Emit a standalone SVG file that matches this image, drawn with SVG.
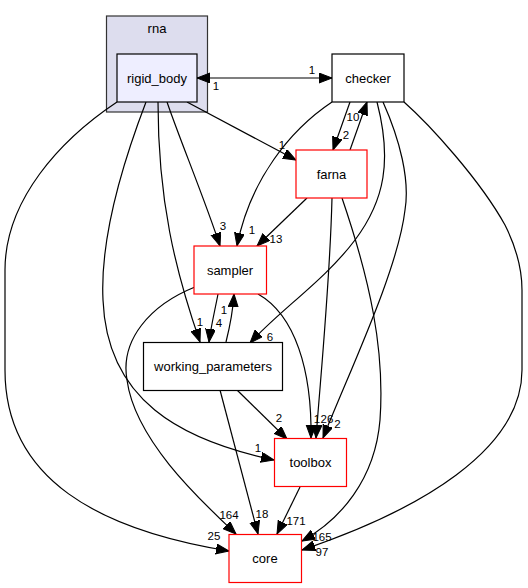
<svg xmlns="http://www.w3.org/2000/svg" width="528" height="588" viewBox="0 0 528 588">
<style>
.bg{fill:#ffffff}
.cl{fill:#ddddee;stroke:#333333;stroke-width:1.2}
.nb{fill:#ffffff;stroke:#000000;stroke-width:1.2}
.nr{fill:#ffffff;stroke:#ff0000;stroke-width:1.2}
.nh{fill:#eeeeff;stroke:#000000;stroke-width:1.2}
.t{font-family:"Liberation Sans",Arial,sans-serif;font-size:13px;text-anchor:middle;fill:#000}
.e{fill:none;stroke:#000;stroke-width:1.2;marker-end:url(#ah)}
.l{font-family:"Liberation Sans",Arial,sans-serif;font-size:11.5px;text-anchor:middle;fill:#000}
</style>
<defs>
<marker id="ah" markerUnits="userSpaceOnUse" markerWidth="14" markerHeight="11" refX="13" refY="5" orient="auto-start-reverse" viewBox="0 0 14 11">
<path d="M0,0 L13,5 L0,10 z" fill="#000" stroke="#000" stroke-width="1"/>
</marker>
</defs>
<rect class="bg" x="0" y="0" width="528" height="588"/>
<g id="cluster_rna">
<rect class="cl" x="106.5" y="16" width="101" height="96"/>
<text class="t" x="157" y="33">rna</text>
</g>
<g id="edges">
<path class="e" d="M197,78 L332,78" marker-start="url(#ah)"/>
<path class="e" d="M187,102 L296,160"/>
<path class="e" d="M167,102 C180,140 205,200 220,246"/>
<path class="e" d="M158,102 C158,200 175,270 200,342"/>
<path class="e" d="M146,102 C120,170 100,240 103,300 C107,400 180,440 274,460"/>
<path class="e" d="M117,102 C60,140 5,200 5,270 L5,370 C5,480 100,530 229,551"/>
<path class="e" d="M332,102 C290,130 250,180 237,246"/>
<path class="e" d="M350,102 L333,150"/>
<path class="e" d="M350,150 L367,102"/>
<path class="e" d="M377,102 C392,160 385,200 355,240 C325,280 280,310 250,343"/>
<path class="e" d="M383,102 C400,140 410,180 405,210 C398,270 350,370 323,438"/>
<path class="e" d="M404,102 C430,125 480,180 505,225 C515,245 522,265 522,290 L522,370 C522,450 420,510 302,550"/>
<path class="e" d="M307,198 L257,246"/>
<path class="e" d="M332,198 C330,280 322,360 316,438"/>
<path class="e" d="M342,198 C370,280 385,350 380,420 C375,480 340,520 302,541"/>
<path class="e" d="M218,294 C215,310 211,326 209,342"/>
<path class="e" d="M226,342 C230,326 233,310 234,294"/>
<path class="e" d="M195,287 C150,305 120,340 127,380 C135,440 200,500 236,534"/>
<path class="e" d="M258,294 C295,315 312,370 311,438"/>
<path class="e" d="M237,390 L287,439"/>
<path class="e" d="M220,390 L258,534"/>
<path class="e" d="M300,487 L277,534"/>
</g>
<g id="edge_labels">
<text class="l" x="312" y="74">1</text>
<text class="l" x="216" y="90">1</text>
<text class="l" x="282" y="149">1</text>
<text class="l" x="353" y="121">10</text>
<text class="l" x="346" y="139">2</text>
<text class="l" x="223" y="230">3</text>
<text class="l" x="252" y="234">1</text>
<text class="l" x="276" y="243">13</text>
<text class="l" x="200" y="326">1</text>
<text class="l" x="219" y="327">4</text>
<text class="l" x="224" y="314">1</text>
<text class="l" x="270" y="341">6</text>
<text class="l" x="279" y="422">2</text>
<text class="l" x="317" y="423">1</text>
<text class="l" x="327" y="423">26</text>
<text class="l" x="337.5" y="428">2</text>
<text class="l" x="258" y="452">1</text>
<text class="l" x="229" y="519">164</text>
<text class="l" x="262" y="518">18</text>
<text class="l" x="296" y="525">171</text>
<text class="l" x="214" y="540">25</text>
<text class="l" x="322" y="541">165</text>
<text class="l" x="322" y="556">97</text>
</g>
<g id="node_rigid_body">
<rect class="nh" x="117" y="54" width="80" height="48"/>
<text class="t" x="157" y="82.5">rigid_body</text>
</g>
<g id="node_checker">
<rect class="nb" x="332" y="54" width="72" height="48"/>
<text class="t" x="368" y="82.5">checker</text>
</g>
<g id="node_farna">
<rect class="nr" x="296" y="150" width="71" height="48"/>
<text class="t" x="331.5" y="178.5">farna</text>
</g>
<g id="node_sampler">
<rect class="nr" x="194" y="246" width="72.5" height="48"/>
<text class="t" x="230" y="274.5">sampler</text>
</g>
<g id="node_working_parameters">
<rect class="nb" x="143.5" y="342.5" width="139" height="48"/>
<text class="t" x="213" y="371">working_parameters</text>
</g>
<g id="node_toolbox">
<rect class="nr" x="274.5" y="438.5" width="72" height="48"/>
<text class="t" x="310.5" y="467">toolbox</text>
</g>
<g id="node_core">
<rect class="nr" x="229" y="534.5" width="72.5" height="48"/>
<text class="t" x="265" y="563">core</text>
</g>
</svg>
